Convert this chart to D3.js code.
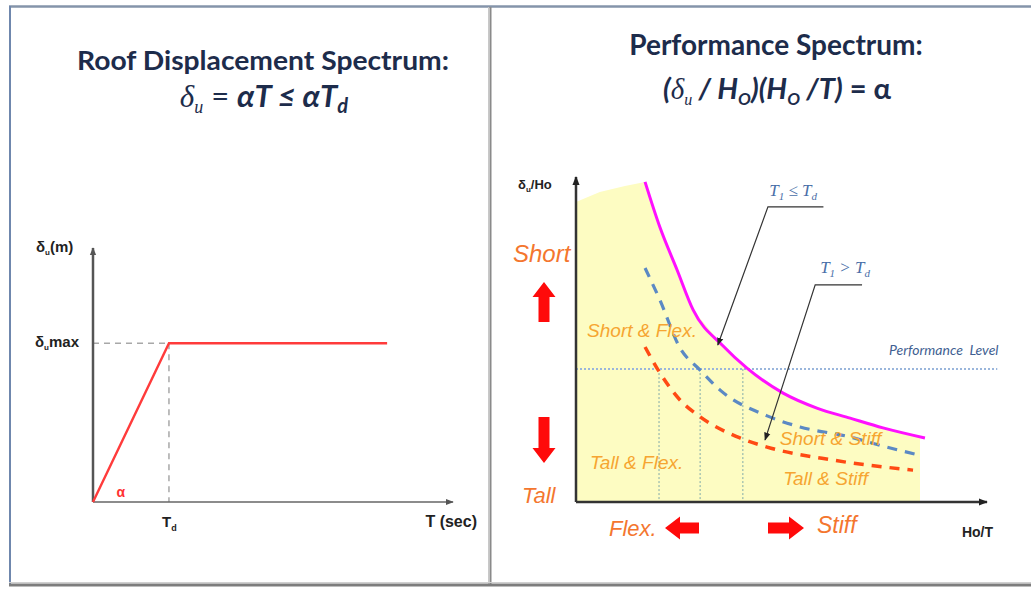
<!DOCTYPE html>
<html><head><meta charset="utf-8">
<script src="https://cdn.jsdelivr.net/npm/d3@7"></script>
<style>
html,body{margin:0;padding:0;background:#fff;}
svg{display:block;}
text{white-space:pre;}
</style></head>
<body>
<svg id="c" width="1031" height="589"></svg>
<script>
// ---------- DATA ----------
// Left panel: roof displacement spectrum (T in s, delta normalized)
const leftT = [0, 2.11, 8.17];
const leftDelta = [0, 1.0, 1.0];
const Td = 2.11, deltaMax = 1.0;
// Right panel: performance spectrum (Ho/T vs delta/Ho, arbitrary units)
const magentaX = [1.68, 2.04, 2.46, 2.85, 3.58, 4.16, 5.04, 5.86, 6.67, 7.47, 8.49];
const magentaY = [9.85, 8.46, 7.14, 5.91, 4.80, 4.12, 3.35, 2.89, 2.58, 2.28, 1.97];
const blueX = [1.68, 2.04, 2.53, 3.02, 3.50, 4.65, 5.45, 6.67, 7.47, 8.32];
const blueY = [7.20, 6.22, 4.74, 4.06, 3.45, 2.65, 2.31, 2.00, 1.72, 1.45];
const redX = [1.68, 2.00, 2.53, 3.02, 3.99, 4.65, 6.25, 8.20];
const redY = [4.77, 4.06, 3.14, 2.62, 1.97, 1.69, 1.29, 0.98];
const fillTopX = [0, 0.58, 1.19, 1.68];
const fillTopY = [9.23, 9.54, 9.72, 9.85];
const fillEndX = 8.37;
const perfLevel = 4.09;
const perfCrossX = [2.02, 3.02, 4.06];
const regionLabels = ["Short & Flex.", "Tall & Flex.", "Short & Stiff", "Tall & Stiff"];
const regionX = [0.27, 0.34, 4.96, 5.04];
const regionY = [5.08, 1.02, 1.75, 0.52];

const svg = d3.select("#c");

// ---------- FRAME ----------
svg.append("line").attr("x1",9).attr("x2",1031).attr("y1",6.5).attr("y2",6.5).attr("stroke","#8594aa").attr("stroke-width",2.5);
svg.append("line").attr("x1",10).attr("x2",10).attr("y1",6).attr("y2",586).attr("stroke","#6f87ad").attr("stroke-width",2);
svg.append("line").attr("x1",488.5).attr("x2",488.5).attr("y1",7).attr("y2",586).attr("stroke","#c8c8c8").attr("stroke-width",1);
svg.append("line").attr("x1",490.5).attr("x2",490.5).attr("y1",7).attr("y2",586).attr("stroke","#8a8a8a").attr("stroke-width",2);
svg.append("line").attr("x1",9).attr("x2",1031).attr("y1",585).attr("y2",585).attr("stroke","#7d7d7d").attr("stroke-width",3);
svg.append("line").attr("x1",9).attr("x2",1031).attr("y1",582.5).attr("y2",582.5).attr("stroke","#d0d0d0").attr("stroke-width",1);

const defs = svg.append("defs");
function marker(id, color, size){
  defs.append("marker").attr("id",id).attr("viewBox","0 0 10 10").attr("refX",9).attr("refY",5)
    .attr("markerWidth",size).attr("markerHeight",size).attr("markerUnits","userSpaceOnUse").attr("orient","auto")
    .append("path").attr("d","M0,1 L10,5 L0,9 Z").attr("fill",color);
}
marker("axL","#555",8);
marker("axR","#222",9);
marker("lead","#222",8);

// ---------- TITLES ----------
const titleColor = "#1d2c4b";
const tFont = "Lato, 'Open Sans', sans-serif";
const serif = "'Liberation Serif','DejaVu Serif',serif";
svg.append("text").attr("x",263).attr("y",70).attr("text-anchor","middle")
  .attr("font-family",tFont).attr("font-weight",700).attr("font-size",27).attr("fill",titleColor)
  .attr("textLength",372).attr("lengthAdjust","spacingAndGlyphs")
  .text("Roof Displacement Spectrum:");
{
  const t = svg.append("text").attr("x",264).attr("y",107).attr("text-anchor","middle")
    .attr("font-family",tFont).attr("font-weight",700).attr("font-style","italic").attr("font-size",31).attr("fill",titleColor);
  t.append("tspan").attr("font-family",serif).attr("font-weight",400).text("δ");
  t.append("tspan").attr("font-family",serif).attr("font-weight",400).attr("font-size",18).attr("dy",6).text("u");
  t.append("tspan").attr("dy",-6).attr("font-weight",400).attr("font-style","normal").text(" = ");
  t.append("tspan").text("αT ≤ αT");
  t.append("tspan").attr("font-size",20).attr("dy",6).text("d");
}
svg.append("text").attr("x",776).attr("y",55).attr("text-anchor","middle")
  .attr("font-family",tFont).attr("font-weight",700).attr("font-size",28).attr("fill",titleColor)
  .text("Performance Spectrum:");
{
  const t = svg.append("text").attr("x",777).attr("y",99).attr("text-anchor","middle")
    .attr("font-family",tFont).attr("font-weight",700).attr("font-style","italic").attr("font-size",29).attr("fill",titleColor);
  t.append("tspan").text("(");
  t.append("tspan").attr("font-family",serif).attr("font-weight",400).text("δ");
  t.append("tspan").attr("font-family",serif).attr("font-weight",400).attr("font-size",16).attr("dy",6).text("u");
  t.append("tspan").attr("dy",-6).text(" / H");
  t.append("tspan").attr("font-size",17).attr("dy",6).text("O");
  t.append("tspan").attr("dy",-6).text(")(H");
  t.append("tspan").attr("font-size",17).attr("dy",6).text("O");
  t.append("tspan").attr("dy",-6).text(" /T)");
  t.append("tspan").attr("font-style","normal").text(" = α");
}

// ---------- LEFT CHART ----------
const xL = d3.scaleLinear().domain([0,10]).range([93,453]);
const yL = d3.scaleLinear().domain([0,1.6]).range([502,248]);
const gL = svg.append("g");
// guides
gL.append("line").attr("x1",xL(0)).attr("x2",xL(Td)).attr("y1",yL(deltaMax)).attr("y2",yL(deltaMax))
  .attr("stroke","#a8a8a8").attr("stroke-width",1.5).attr("stroke-dasharray","6,5");
gL.append("line").attr("x1",xL(Td)).attr("x2",xL(Td)).attr("y1",yL(deltaMax)).attr("y2",yL(0))
  .attr("stroke","#a8a8a8").attr("stroke-width",1.5).attr("stroke-dasharray","6,5");
// axes
gL.append("line").attr("x1",xL(0)).attr("x2",xL(0)).attr("y1",yL(0)).attr("y2",yL(1.6))
  .attr("stroke","#555").attr("stroke-width",2.5).attr("marker-end","url(#axL)");
gL.append("line").attr("x1",xL(0)).attr("x2",xL(10)).attr("y1",yL(0)).attr("y2",yL(0))
  .attr("stroke","#666").attr("stroke-width",1.5).attr("marker-end","url(#axL)");
// series
gL.append("path").datum(leftT.map((t,i)=>[t,leftDelta[i]]))
  .attr("d",d3.line().x(d=>xL(d[0])).y(d=>yL(d[1])))
  .attr("fill","none").attr("stroke","#ff3b3b").attr("stroke-width",2.4);
// labels
const lab = "'Liberation Sans Narrow','Liberation Sans',Arial,sans-serif";
function deltaLabel(x,y,rest){
  const t = gL.append("text").attr("x",x).attr("y",y).attr("font-family",lab).attr("font-weight",700)
    .attr("font-size",15).attr("fill","#222");
  t.append("tspan").text("δ");
  t.append("tspan").attr("font-size",8).attr("dy",3).text("u");
  t.append("tspan").attr("dy",-3).text(rest);
}
deltaLabel(36,252,"(m)");
deltaLabel(35,347,"max");
{
  const t = gL.append("text").attr("x",xL(Td)-7).attr("y",527).attr("font-family",lab).attr("font-weight",700)
    .attr("font-size",15).attr("fill","#222");
  t.append("tspan").text("T");
  t.append("tspan").attr("font-size",9).attr("dy",4).text("d");
}
gL.append("text").attr("x",477).attr("y",527).attr("text-anchor","end").attr("font-family",lab).attr("font-weight",700)
  .attr("font-size",16).attr("fill","#222").text("T (sec)");
gL.append("text").attr("x",xL(0.65)).attr("y",yL(0.03)).attr("font-family","'Liberation Sans',Arial,sans-serif").attr("font-weight",700)
  .attr("font-size",14).attr("fill","#ff3030").text("α");

// ---------- RIGHT CHART ----------
const xR = d3.scaleLinear().domain([0,10]).range([576,987]);
const yR = d3.scaleLinear().domain([0,10]).range([502,177]);
const gR = svg.append("g");
const pts = (xs,ys)=>xs.map((x,i)=>[x,ys[i]]);
const curve = d3.line().x(d=>xR(d[0])).y(d=>yR(d[1])).curve(d3.curveMonotoneX);
// fill
const magPts = pts(magentaX, magentaY);
const fillPts = pts(fillTopX, fillTopY).concat(magPts.filter(d=>d[0] < fillEndX)).concat([[fillEndX, 2.0],[fillEndX,0],[0,0]]);
gR.append("path").datum(fillPts)
  .attr("d",d3.line().x(d=>xR(d[0])).y(d=>yR(d[1])).curve(d3.curveLinear))
  .attr("fill","#fdfcc2").attr("stroke","none");
// performance level
gR.append("line").attr("x1",xR(0)).attr("x2",xR(10.25)).attr("y1",yR(perfLevel)).attr("y2",yR(perfLevel))
  .attr("stroke","#9ab6dc").attr("stroke-width",2).attr("stroke-dasharray","2,2");
gR.selectAll("line.vcross").data(perfCrossX).join("line").attr("class","vcross")
  .attr("x1",d=>xR(d)).attr("x2",d=>xR(d)).attr("y1",yR(perfLevel)).attr("y2",yR(0))
  .attr("stroke","#7fa9aa").attr("stroke-width",1).attr("stroke-dasharray","2,2");
gR.append("text").attr("x",xR(10.28)).attr("y",yR(4.52)).attr("text-anchor","end")
  .attr("font-family","Lato,'Open Sans',sans-serif").attr("font-style","italic").attr("font-size",14)
  .attr("fill","#3f5f92").text("Performance  Level");
// curves
gR.append("path").datum(pts(redX,redY)).attr("d",curve)
  .attr("fill","none").attr("stroke","#ff4a14").attr("stroke-width",3.5).attr("stroke-dasharray","10,8");
gR.append("path").datum(pts(blueX,blueY)).attr("d",curve)
  .attr("fill","none").attr("stroke","#5b89c4").attr("stroke-width",3.2).attr("stroke-dasharray","10,8");
gR.append("path").datum(magPts).attr("d",curve)
  .attr("fill","none").attr("stroke","#ff10ff").attr("stroke-width",3);
// axes
gR.append("line").attr("x1",xR(0)).attr("x2",xR(0)).attr("y1",yR(0)).attr("y2",yR(10))
  .attr("stroke","#333").attr("stroke-width",2.5).attr("marker-end","url(#axR)");
gR.append("line").attr("x1",xR(0)).attr("x2",xR(10)).attr("y1",yR(0)).attr("y2",yR(0))
  .attr("stroke","#333").attr("stroke-width",2.5).attr("marker-end","url(#axR)");
// region labels
gR.selectAll("text.region").data(regionLabels).join("text").attr("class","region")
  .attr("x",(d,i)=>xR(regionX[i])).attr("y",(d,i)=>yR(regionY[i]))
  .attr("font-family","'Liberation Sans',Arial,sans-serif").attr("font-style","italic").attr("font-size",19)
  .attr("fill","#f6a531").text(d=>d);
// leader annotations
function leader(label, labX, labY, elbowX, elbowY, endX, tipX, tipY){
  gR.append("path").attr("d",`M${xR(endX)},${yR(elbowY)}H${xR(elbowX)}L${xR(tipX)},${yR(tipY)}`)
    .attr("fill","none").attr("stroke","#333").attr("stroke-width",1.2).attr("marker-end","url(#lead)");
  const t = gR.append("text").attr("x",xR(labX)).attr("y",yR(labY)).attr("font-family",serif)
    .attr("font-style","italic").attr("font-size",17).attr("fill","#4a6fa8");
  t.append("tspan").text("T");
  t.append("tspan").attr("font-size",11).attr("dy",4).text("1");
  t.append("tspan").attr("dy",-4).text(label);
  t.append("tspan").text("T");
  t.append("tspan").attr("font-size",11).attr("dy",4).text("d");
}
leader(" ≤ ", 4.7, 9.43, 4.67, 9.08, 6.02, 3.45, 4.83);
leader(" > ", 5.94, 7.05, 5.82, 6.68, 6.96, 4.60, 1.91);
// axis labels
{
  const t = gR.append("text").attr("x",518).attr("y",189).attr("font-family",lab).attr("font-weight",700)
    .attr("font-size",13).attr("fill","#222");
  t.append("tspan").text("δ");
  t.append("tspan").attr("font-size",8).attr("dy",3).text("u");
  t.append("tspan").attr("dy",-3).text("/Ho");
}
gR.append("text").attr("x",993).attr("y",537).attr("text-anchor","end").attr("font-family",lab).attr("font-weight",700)
  .attr("font-size",14).attr("fill","#222").text("Ho/T");
// direction words
const dirFont = "'Liberation Sans',Arial,sans-serif";
const dirColor = "#f4762e";
gR.append("text").attr("x",513).attr("y",262).attr("font-family",dirFont).attr("font-style","italic").attr("font-size",24).attr("fill",dirColor).text("Short");
gR.append("text").attr("x",522).attr("y",503).attr("font-family",dirFont).attr("font-style","italic").attr("font-size",22).attr("fill",dirColor).text("Tall");
gR.append("text").attr("x",609).attr("y",536).attr("font-family",dirFont).attr("font-style","italic").attr("font-size",22).attr("fill",dirColor).text("Flex.");
gR.append("text").attr("x",817).attr("y",533).attr("font-family",dirFont).attr("font-style","italic").attr("font-size",23).attr("fill",dirColor).text("Stiff");
// block arrows
const arrowColor = "#ff0a0a";
function blockArrow(cx, cy, len, dir){
  const hw = 11.5, sw = 5.5, hl = 15;
  const h = len/2;
  let p = [[-h,-sw],[h-hl,-sw],[h-hl,-hw],[h,0],[h-hl,hw],[h-hl,sw],[-h,sw]];
  const rot = {right:0, down:90, left:180, up:270}[dir]*Math.PI/180;
  p = p.map(([x,y])=>[cx + x*Math.cos(rot) - y*Math.sin(rot), cy + x*Math.sin(rot) + y*Math.cos(rot)]);
  gR.append("path").attr("d","M"+p.map(d=>d.join(",")).join("L")+"Z").attr("fill",arrowColor);
}
blockArrow(544, 302, 40, "up");
blockArrow(544, 440, 46, "down");
blockArrow(682, 528, 34, "left");
blockArrow(786, 528, 36, "right");
</script>
</body></html>
